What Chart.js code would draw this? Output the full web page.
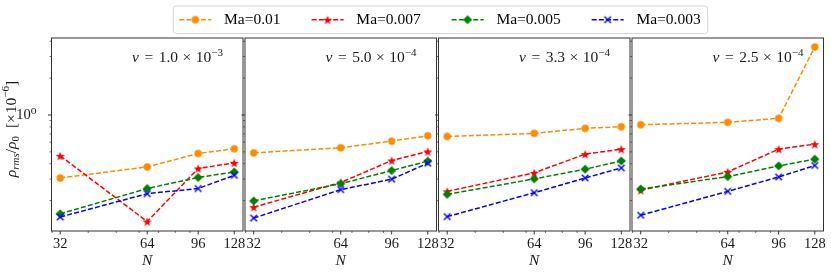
<!DOCTYPE html>
<html>
<head>
<meta charset="utf-8">
<script src="https://cdn.jsdelivr.net/npm/chart.js@4.4.1/dist/chart.umd.min.js"></script>
<style>
  body { margin: 0; background: #fff; }
  #wrap { position: relative; width: 831px; height: 274px; overflow: hidden; background: #fff; }
  canvas { position: absolute; left: 0; }
</style>
</head>
<body>
<div id="wrap">
  <canvas id="p0" width="831" height="274" style="top:0"></canvas>
  <canvas id="p1" width="831" height="274" style="top:0"></canvas>
  <canvas id="p2" width="831" height="274" style="top:0"></canvas>
  <canvas id="p3" width="831" height="274" style="top:0"></canvas>
  <canvas id="legend" width="831" height="100" style="top:-19.25px"></canvas>
</div>
<script>
// grid sizes and tick values
const gridN = [32, 64, 96, 128];
const xMinor = [30, 40, 50, 60, 70, 80, 90];
const yMajor = [1];
const yMinor = [0.2, 0.3, 0.4, 0.5, 0.6, 0.7, 0.8, 0.9, 2, 3, 4];

// viscosity of each panel
const nuMantissa = ["1.0", "5.0", "3.3", "2.5"];
const nuExponent = ["\u22123", "\u22124", "\u22124", "\u22124"];

// series labels
const maLabels = ["Ma=0.01", "Ma=0.007", "Ma=0.005", "Ma=0.003"];

// rho_rms / rho_0 [x1e-6], one row per panel
const rhoMa010 = [
  [0.306, 0.377, 0.485, 0.530],
  [0.491, 0.540, 0.612, 0.677],
  [0.668, 0.708, 0.778, 0.802],
  [0.833, 0.871, 0.939, 3.59]
];
const rhoMa007 = [
  [0.464, 0.135, 0.366, 0.407],
  [0.177, 0.281, 0.425, 0.504],
  [0.238, 0.337, 0.479, 0.526],
  [0.243, 0.343, 0.526, 0.578]
];
const rhoMa005 = [
  [0.156, 0.251, 0.309, 0.343],
  [0.199, 0.275, 0.352, 0.420],
  [0.225, 0.301, 0.361, 0.422],
  [0.249, 0.314, 0.384, 0.436]
];
const rhoMa003 = [
  [0.147, 0.228, 0.251, 0.322],
  [0.144, 0.246, 0.299, 0.404],
  [0.148, 0.232, 0.306, 0.370],
  [0.152, 0.238, 0.312, 0.387]
];

const series = [rhoMa010, rhoMa007, rhoMa005, rhoMa003];
const colors = ["#ff8c00", "#ff0000", "#008000", "#0000ff"];
const kinds = ["circle", "star", "diamond", "x"];

// panel geometry
const panelLeft = [51.5, 245, 438.5, 632];
const panelW = 191.5;
const panelTop = 38;
const panelBottom = 231;

const FONT = '"Liberation Serif", "DejaVu Serif", serif';
const TXT = "#1a1a1a";
const DASH = [5, 2.2];

function makeMarker(kind, color) {
  const c = document.createElement("canvas");
  c.width = 12;
  c.height = 12;
  const g = c.getContext("2d");
  const m = 6;
  g.fillStyle = color;
  g.strokeStyle = color;
  g.beginPath();
  if (kind === "circle") {
    g.arc(m, m, 3.7, 0, Math.PI * 2);
    g.fill();
  } else if (kind === "star") {
    for (let i = 0; i < 10; i++) {
      const r = i % 2 === 0 ? 4.8 : 2;
      const a = -Math.PI / 2 + i * Math.PI / 5;
      const px = m + r * Math.cos(a), py = m + 0.6 + r * Math.sin(a);
      if (i === 0) g.moveTo(px, py); else g.lineTo(px, py);
    }
    g.closePath();
    g.fill();
  } else if (kind === "diamond") {
    g.moveTo(m, m - 4.6);
    g.lineTo(m + 4.6, m);
    g.lineTo(m, m + 4.6);
    g.lineTo(m - 4.6, m);
    g.closePath();
    g.fill();
  } else {
    g.lineWidth = 1.4;
    g.moveTo(m - 3.3, m - 3.3); g.lineTo(m + 3.3, m + 3.3);
    g.moveTo(m + 3.3, m - 3.3); g.lineTo(m - 3.3, m + 3.3);
    g.stroke();
  }
  return c;
}
const markers = kinds.map((k, i) => makeMarker(k, colors[i]));

function partFont(p) {
  return (p.italic ? "italic " : "") + p.size + "px " + FONT;
}
function mathWidth(ctx, parts) {
  let w = 0;
  parts.forEach(p => {
    ctx.font = partFont(p);
    w += ctx.measureText(p.t).width + (p.gap || 0);
  });
  return w;
}
function drawMath(ctx, parts, x, y) {
  let cx = x;
  parts.forEach(p => {
    ctx.font = partFont(p);
    ctx.fillText(p.t, cx, y + (p.dy || 0));
    cx += ctx.measureText(p.t).width + (p.gap || 0);
  });
}

const panelPlugin = {
  id: "panelDeco",
  afterDraw(chart) {
    const ctx = chart.ctx;
    const a = chart.chartArea;
    const x = chart.scales.x, y = chart.scales.y;
    const idx = chart.options.panelIndex;
    ctx.save();
    // frame
    ctx.strokeStyle = "#333";
    ctx.lineWidth = 1;
    ctx.strokeRect(a.left, a.top, a.right - a.left, a.bottom - a.top);
    // tick marks
    function tick(list, len, lw, vertical) {
      ctx.lineWidth = lw;
      ctx.beginPath();
      list.forEach(v => {
        if (vertical) {
          const py = y.getPixelForValue(v);
          ctx.moveTo(a.left, py); ctx.lineTo(a.left - len, py);
        } else {
          const px = x.getPixelForValue(v);
          ctx.moveTo(px, a.bottom); ctx.lineTo(px, a.bottom + len);
        }
      });
      ctx.stroke();
    }
    tick(gridN, 3.5, 1, false);
    tick(xMinor, 2, 0.7, false);
    tick(yMajor, 3.5, 1, true);
    tick(yMinor, 2, 0.7, true);

    ctx.fillStyle = TXT;
    ctx.textBaseline = "alphabetic";
    // panel title
    const title = [
      { t: "\u03bd", size: 15.5, italic: true, gap: 5.5 },
      { t: "=", size: 15.5, gap: 5.5 },
      { t: nuMantissa[idx], size: 15.5, gap: 4.5 },
      { t: "\u00d7", size: 15.5, gap: 4.5 },
      { t: "10", size: 15.5 },
      { t: nuExponent[idx], size: 11, dy: -6.5 }
    ];
    const tw = mathWidth(ctx, title);
    drawMath(ctx, title, a.right - 20 - tw, 62);
    // x label
    ctx.font = "italic 15.5px " + FONT;
    ctx.textAlign = "center";
    ctx.fillText("N", (a.left + a.right) / 2, 265);
    ctx.textAlign = "left";
    // y label on first panel
    if (idx === 0) {
      const lab = [
        { t: "\u03c1", size: 15.5, italic: true },
        { t: "rms", size: 11, italic: true, dy: 3 },
        { t: "/", size: 15.5 },
        { t: "\u03c1", size: 15.5, italic: true },
        { t: "0", size: 11, dy: 3, gap: 8 },
        { t: "[", size: 15.5 },
        { t: "\u00d7", size: 15.5, gap: 1 },
        { t: "10", size: 15.5 },
        { t: "\u22126", size: 11, dy: -6.5 },
        { t: "]", size: 15.5 }
      ];
      const lw = mathWidth(ctx, lab);
      ctx.translate(15.5, 129);
      ctx.rotate(-Math.PI / 2);
      drawMath(ctx, lab, -lw / 2, 0);
    }
    ctx.restore();
  }
};

for (let p = 0; p < 4; p++) {
  const datasets = series.map((s, k) => ({
    label: maLabels[k],
    data: gridN.map((n, i) => ({ x: n, y: s[p][i] })),
    borderColor: colors[k],
    backgroundColor: colors[k],
    borderWidth: 1.5,
    borderDash: DASH,
    pointStyle: markers[k],
    pointRadius: 4,
    fill: false,
    tension: 0,
    order: 3 - k
  }));
  const yWidth = p === 0 ? panelLeft[0] : 0;
  new Chart(document.getElementById("p" + p), {
    type: "line",
    data: { datasets: datasets },
    options: {
      panelIndex: p,
      responsive: false,
      animation: false,
      devicePixelRatio: 1,
      events: [],
      layout: {
        padding: {
          left: panelLeft[p] - yWidth,
          right: 831 - panelLeft[p] - panelW,
          top: panelTop,
          bottom: 0
        }
      },
      scales: {
        x: {
          type: "logarithmic",
          min: 29.86,
          max: 137.2,
          grid: { display: false },
          border: { display: false },
          afterFit: s => { s.height = 274 - panelBottom; },
          afterBuildTicks: s => { s.ticks = gridN.map(v => ({ value: v })); },
          ticks: {
            autoSkip: false,
            maxRotation: 0,
            padding: -4,
            color: TXT,
            font: { family: FONT, size: 14.5 },
            callback: v => String(v)
          }
        },
        y: {
          type: "logarithmic",
          min: 0.113,
          max: 4.25,
          grid: { display: false },
          border: { display: false },
          afterFit: s => { s.width = yWidth; },
          afterBuildTicks: s => { s.ticks = yMajor.map(v => ({ value: v })); },
          ticks: {
            display: p === 0,
            padding: 7,
            color: TXT,
            font: { family: FONT, size: 14.5 },
            callback: v => (v === 1 ? "10\u2070" : "")
          }
        }
      },
      plugins: { legend: { display: false }, tooltip: { enabled: false } }
    },
    plugins: [panelPlugin]
  });
}

// legend with dashed handles and markers
const legendPlugin = {
  id: "legendDeco",
  afterDraw(chart) {
    const ctx = chart.ctx;
    const hb = chart.legend.legendHitBoxes;
    if (!hb || !hb.length) return;
    const cy = hb[0].top + hb[0].height / 2;
    const left = hb[0].left - 6;
    const right = hb[hb.length - 1].left + hb[hb.length - 1].width + 7;
    const top = cy - 13.8, bottom = cy + 13.8, r = 3;
    ctx.save();
    ctx.strokeStyle = "#d4d4d4";
    ctx.lineWidth = 1;
    ctx.beginPath();
    ctx.moveTo(left + r, top);
    ctx.arcTo(right, top, right, bottom, r);
    ctx.arcTo(right, bottom, left, bottom, r);
    ctx.arcTo(left, bottom, left, top, r);
    ctx.arcTo(left, top, right, top, r);
    ctx.closePath();
    ctx.stroke();
    hb.forEach((b, k) => {
      ctx.strokeStyle = colors[k];
      ctx.lineWidth = 1.5;
      ctx.setLineDash(DASH);
      ctx.beginPath();
      ctx.moveTo(b.left, cy);
      ctx.lineTo(b.left + 32, cy);
      ctx.stroke();
      ctx.setLineDash([]);
      const m = markers[k];
      ctx.drawImage(m, b.left + 16 - m.width / 2, cy - m.height / 2);
    });
    ctx.restore();
  }
};

new Chart(document.getElementById("legend"), {
  type: "line",
  data: { datasets: maLabels.map((l, k) => ({ label: l, data: [], borderColor: colors[k] })) },
  options: {
    responsive: false,
    animation: false,
    devicePixelRatio: 1,
    events: [],
    layout: { padding: { left: 49, right: 0, top: 0, bottom: 0 } },
    scales: { x: { display: false }, y: { display: false } },
    plugins: {
      tooltip: { enabled: false },
      legend: {
        display: true,
        position: "top",
        labels: {
          boxWidth: 37,
          boxHeight: 0,
          padding: 31,
          color: TXT,
          font: { family: FONT, size: 15.5 },
          generateLabels: () => maLabels.map((t, k) => ({
            text: t,
            fillStyle: "rgba(0,0,0,0)",
            strokeStyle: "rgba(0,0,0,0)",
            lineWidth: 0,
            datasetIndex: k,
            hidden: false
          }))
        }
      }
    }
  },
  plugins: [legendPlugin]
});
</script>
</body>
</html>
